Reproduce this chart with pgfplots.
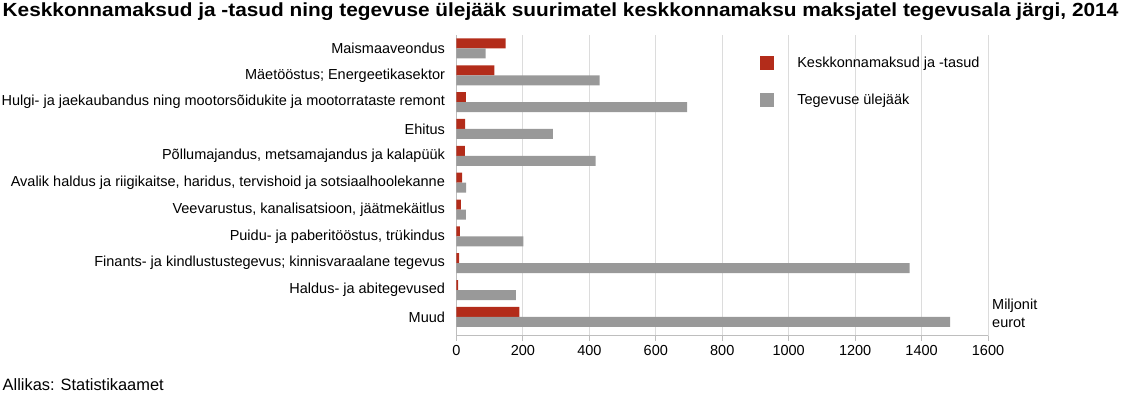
\documentclass[border=0pt]{standalone}
\usepackage{pgfplots}
\usepackage{pgfplotstable}
\pgfplotsset{compat=1.18}
\usepackage{fontspec}
\setmainfont{Liberation Sans}
\newfontfamily\titlefont{Liberation Sans Bold}[FakeStretch=1.096]
\definecolor{barred}{RGB}{179,44,26}
\definecolor{bargray}{RGB}{153,153,153}
\definecolor{gridc}{RGB}{220,220,220}
\definecolor{axisc}{RGB}{190,190,190}
\pgfplotstableread{
y tasud ylejaak
0 148 88
1 114 431
2 28 694
3 26 290
4 25 419
5 17 29
6 13 28
7 10 201
8 8 1364
9 5 179
10 189 1486
}\data
\begin{document}
\begin{tikzpicture}
\path[use as bounding box] (0pt,0pt) rectangle (1122pt,-398pt);
\node[anchor=west,inner sep=0pt,font=\fontsize{19}{21}\titlefont] at (2.5pt,-12pt) {Keskkonnamaksud ja -tasud ning tegevuse ülejääk suurimatel keskkonnamaksu maksjatel tegevusala järgi, 2014};
\node[anchor=west,inner sep=0pt,font=\fontsize{16.4}{18}\selectfont] at (2.5pt,-385pt) {Allikas: Statistikaamet};
\begin{axis}[
  at={(456.5pt,-335.7pt)}, anchor=south west,
  scale only axis, width=531.5pt, height=300.7pt,
  xbar, bar width=10pt,
  xmin=0, xmax=1600,
  ymin=-0.5, ymax=10.7,
  y dir=reverse,
  xtick={0,200,...,1600},
  ytick={0,...,10},
  yticklabels={Maismaaveondus,{Mäetööstus; Energeetikasektor},Hulgi- ja jaekaubandus ning mootorsõidukite ja mootorrataste remont,Ehitus,{Põllumajandus, metsamajandus ja kalapüük},{Avalik haldus ja riigikaitse, haridus, tervishoid ja sotsiaalhoolekanne},{Veevarustus, kanalisatsioon, jäätmekäitlus},{Puidu- ja paberitööstus, trükindus},{Finants- ja kindlustustegevus; kinnisvaraalane tegevus},Haldus- ja abitegevused,Muud},
  axis lines*=left,
  axis line style={draw=axisc, line width=1pt},
  x axis line style={-},
  y axis line style={-},
  xmajorgrids, major grid style={draw=gridc, line width=1pt},
  major x tick style={draw=axisc, line width=1pt},
  major y tick style={draw=none},
  tick align=outside,
  major tick length=5pt,
  xticklabel style={font=\fontsize{14.5}{16}\selectfont, yshift=-1pt},
  yticklabel style={font=\fontsize{14.5}{16}\selectfont, xshift=-3pt},
  /pgf/number format/assume math mode=true,
  /pgf/number format/1000 sep={},
  legend style={at={(axis cs:914,-0.16)}, anchor=north west, draw=none, fill=none,
    font=\fontsize{14.5}{16}\selectfont, inner sep=0pt, nodes={inner sep=0pt}},
  legend cell align=left,
  legend image code/.code={\path[draw=none,fill=none] (0pt,-18.5pt) rectangle (37pt,18.5pt); \fill[#1,draw=none] (0pt,-7pt) rectangle (14pt,7pt);},
  clip=false,
]
\addplot[fill=barred, draw=none, bar shift=5pt] table[x=tasud,y=y] {\data};
\addplot[fill=bargray, draw=none, bar shift=-5pt] table[x=ylejaak,y=y] {\data};
\legend{Keskkonnamaksud ja -tasud, Tegevuse ülejääk}
\node[anchor=north west, align=left, inner sep=0pt, font=\fontsize{14.5}{18}\selectfont] at (axis cs:1612,9.33) {Miljonit\\eurot};
\end{axis}
\end{tikzpicture}
\end{document}
